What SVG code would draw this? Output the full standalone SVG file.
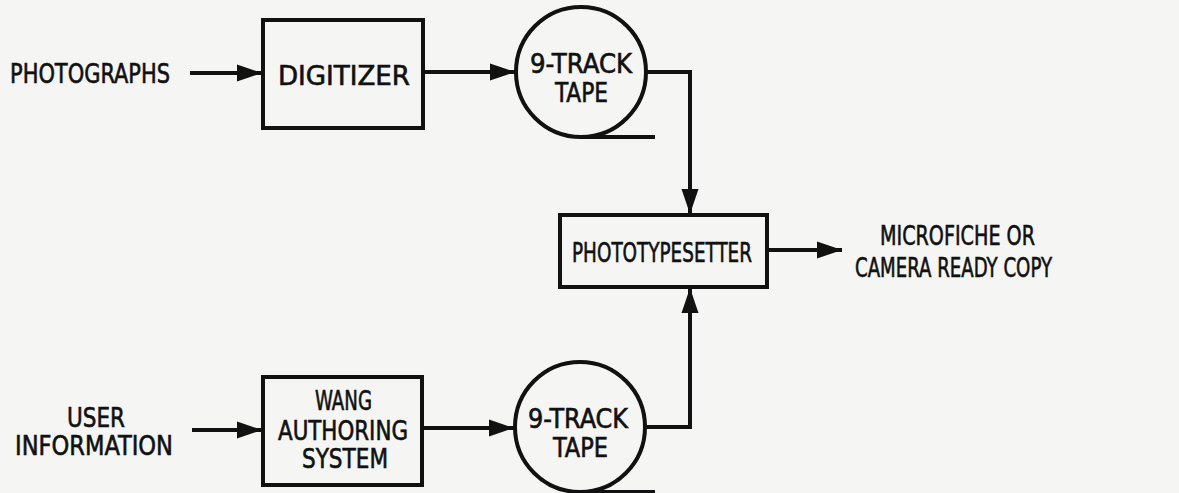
<svg xmlns="http://www.w3.org/2000/svg" width="1179" height="493" viewBox="0 0 1179 493">
<style>
text{font-family:"DejaVu Sans Condensed","DejaVu Sans","Liberation Sans",sans-serif;font-size:27px;fill:#111;stroke:#111;stroke-width:0.6;}
.box{fill:none;stroke:#111;stroke-width:4;}
.line{fill:none;stroke:#111;stroke-width:4;}
</style>
<defs>
<marker id="ah" markerUnits="userSpaceOnUse" markerWidth="27" markerHeight="20" refX="25" refY="10" orient="auto">
<path d="M0,1.5 L25,10 L0,18.5 Z" fill="#111"/>
</marker>
</defs>
<rect width="1179" height="493" fill="#f5f5f3"/>
<g id="photographs"><text x="10" y="83" textLength="160" lengthAdjust="spacingAndGlyphs">PHOTOGRAPHS</text></g>
<g id="digitizer"><rect class="box" x="263" y="20" width="160" height="108"/><text x="278" y="85" textLength="132" lengthAdjust="spacingAndGlyphs">DIGITIZER</text></g>
<g id="tape1"><circle class="box" cx="581" cy="72" r="65"/><path class="line" d="M581,137 H655"/><text x="530" y="73" textLength="102" lengthAdjust="spacingAndGlyphs">9-TRACK</text><text x="555" y="102" textLength="53" lengthAdjust="spacingAndGlyphs">TAPE</text></g>
<g id="phototypesetter"><rect class="box" x="560" y="215" width="207" height="72"/><text x="572" y="262" textLength="180" lengthAdjust="spacingAndGlyphs">PHOTOTYPESETTER</text></g>
<g id="output"><text x="880" y="245" textLength="155" lengthAdjust="spacingAndGlyphs">MICROFICHE OR</text><text x="855" y="277" textLength="197" lengthAdjust="spacingAndGlyphs">CAMERA READY COPY</text></g>
<g id="user"><text x="67" y="427" textLength="58" lengthAdjust="spacingAndGlyphs">USER</text><text x="15" y="455" textLength="158" lengthAdjust="spacingAndGlyphs">INFORMATION</text></g>
<g id="wang"><rect class="box" x="263" y="377" width="159" height="108"/><text x="315" y="410" textLength="57" lengthAdjust="spacingAndGlyphs">WANG</text><text x="278" y="440" textLength="130" lengthAdjust="spacingAndGlyphs">AUTHORING</text><text x="302" y="468" textLength="86" lengthAdjust="spacingAndGlyphs">SYSTEM</text></g>
<g id="tape2"><circle class="box" cx="580" cy="427" r="65"/><path class="line" d="M580,492 H655"/><text x="528" y="428" textLength="100" lengthAdjust="spacingAndGlyphs">9-TRACK</text><text x="553" y="457" textLength="55" lengthAdjust="spacingAndGlyphs">TAPE</text></g>
<g id="connectors">
<path class="line" d="M190,73 H262" marker-end="url(#ah)"/>
<path class="line" d="M423,72 H515" marker-end="url(#ah)"/>
<path class="line" d="M646,72 H690 V214" marker-end="url(#ah)"/>
<path class="line" d="M192,430 H262" marker-end="url(#ah)"/>
<path class="line" d="M422,428 H514" marker-end="url(#ah)"/>
<path class="line" d="M645,427 H690 V288" marker-end="url(#ah)"/>
<path class="line" d="M767,250 H842" marker-end="url(#ah)"/>
</g>
</svg>
